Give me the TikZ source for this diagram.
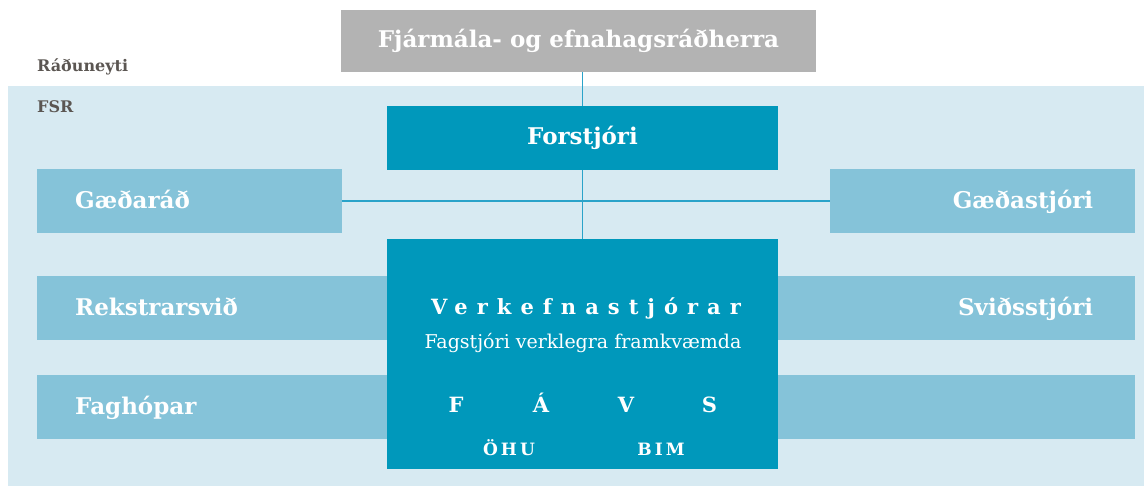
\documentclass[tikz,border=0pt]{standalone}
\usepackage{fontspec}
\setmainfont{DejaVu Serif}

\definecolor{fsrbg}{HTML}{D7EAF2}
\definecolor{barblue}{HTML}{85C3D9}
\definecolor{tealbox}{HTML}{0098BB}
\definecolor{greybox}{HTML}{B3B3B3}
\definecolor{labelgrey}{HTML}{5B5652}
\definecolor{linkblue}{HTML}{2AA3C9}

\tikzset{
	box/.style={inner sep=0, text=white, font=\bfseries\fontsize{23}{27}\selectfont},
	sidebar/.style={box, fill=barblue, anchor=north west, minimum height=64, text height=18, text depth=4},
	leftbar/.style={sidebar, align=left, inner xsep=38},
	rightbar/.style={sidebar, align=right, inner xsep=42},
	labeltext/.style={anchor=base west, inner sep=0, text=labelgrey, font=\bfseries\fontsize{16}{19}\selectfont},
	intext/.style={anchor=base, inner sep=0, text=white},
	link/.style={draw=linkblue, line width=1.5pt}
}

\begin{document}
\begin{tikzpicture}[x=1pt, y=-1pt]
	\useasboundingbox (0,0) rectangle (1144,486);
	\fill[fsrbg] (8,86) rectangle (1144,486);

	\node[labeltext] (raduneyti) at (37,72) {Ráðuneyti};
	\node[labeltext] (fsr) at (37,113) {FSR};

	\node[box, fill=greybox, minimum width=475, minimum height=62] (radherra) at (578.5,41) {Fjármála- og efnahagsráðherra};
	\node[box, fill=tealbox, minimum width=391, minimum height=64] (forstjori) at (582.5,138) {Forstjóri};

	\node[leftbar, minimum width=305, text width=229] (gaedarad) at (37,169) {Gæðaráð};
	\node[rightbar, minimum width=305, text width=221] (gaedastjori) at (830,169) {Gæðastjóri};
	\node[leftbar, minimum width=350, text width=274] (rekstur) at (37,276) {Rekstrarsvið};
	\node[rightbar, minimum width=357, text width=273] (svidsstjori) at (778,276) {Sviðsstjóri};
	\node[leftbar, minimum width=350, text width=274] (faghopar) at (37,375) {Faghópar};
	\node[rightbar, minimum width=357, text width=273] (tomt) at (778,375) {};

	\node[box, fill=tealbox, anchor=north, minimum width=391, minimum height=230] (verk) at (582.5,239) {};
	\node[intext, font=\bfseries\fontsize{21}{25}\selectfont\addfontfeature{LetterSpace=43}] (verktitill) at (586,315) {Verkefnastjórar};
	\node[intext, font=\fontsize{19}{23}\selectfont] (fagstjori) at (583,349) {Fagstjóri verklegra framkvæmda};
	\node[intext, font=\bfseries\fontsize{21}{25}\selectfont] (hopf) at (456,413) {F};
	\node[intext, font=\bfseries\fontsize{21}{25}\selectfont] (hopa) at (541,413) {Á};
	\node[intext, font=\bfseries\fontsize{21}{25}\selectfont] (hopv) at (626,413) {V};
	\node[intext, font=\bfseries\fontsize{21}{25}\selectfont] (hops) at (709.5,413) {S};
	\node[intext, font=\bfseries\fontsize{17}{20}\selectfont\addfontfeature{LetterSpace=18}] (ohu) at (509,455) {ÖHU};
	\node[intext, font=\bfseries\fontsize{17}{20}\selectfont\addfontfeature{LetterSpace=18}] (bim) at (661,455) {BIM};

	\draw[link] (forstjori.north |- radherra.south) -- (forstjori.north);
	\draw[link] (forstjori.south) -- (verk.north);
	\draw[link] (gaedarad.east) -- (gaedastjori.west);
\end{tikzpicture}
\end{document}
